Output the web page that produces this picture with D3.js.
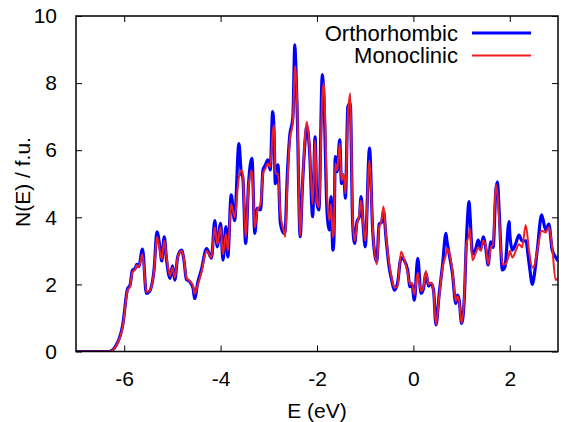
<!DOCTYPE html>
<html>
<head>
<meta charset="utf-8">
<script src="https://cdn.jsdelivr.net/npm/d3@7"></script>
<style>
  body { margin: 0; background: #fff; }
  #dataViz { width: 561px; height: 422px; }
  text { font-family: "Liberation Sans", Arial, sans-serif; }
</style>
</head>
<body>
<div id="dataViz"></div>
<script>
const margin = { top: 16, right: 3, bottom: 70.5, left: 76 };
const width = 561;
const height = 422;

const colours = {
  "ortho": "#0000ff",
  "mono": "#ee1f23",
  "axis": "black"
};

// energies (eV) and densities of states
const energy = [
  -7.0, -6.31, -6.14, -6.03, -5.93, -5.88, -5.83, -5.77, -5.74, -5.70,
  -5.62, -5.54, -5.48, -5.38, -5.32, -5.26, -5.22, -5.17, -5.12, -5.05,
  -5.0, -4.95, -4.89, -4.81, -4.76, -4.71, -4.64, -4.57, -4.54, -4.47,
  -4.40, -4.29, -4.19, -4.12, -4.07, -4.0, -3.95, -3.89, -3.85, -3.78,
  -3.71, -3.62, -3.57, -3.54, -3.48, -3.42, -3.35, -3.29, -3.24, -3.17,
  -3.12, -3.07, -3.02, -2.97, -2.92, -2.89, -2.865, -2.81, -2.76, -2.69,
  -2.66, -2.62, -2.57, -2.50, -2.46, -2.45, -2.41, -2.35, -2.30, -2.24,
  -2.21, -2.155, -2.09, -2.04, -2.0, -1.96, -1.89, -1.86, -1.79, -1.74,
  -1.71, -1.67, -1.65, -1.62, -1.58, -1.53, -1.49, -1.445, -1.41, -1.36,
  -1.31, -1.26, -1.22, -1.17, -1.12, -1.085, -1.04, -1.0, -0.91, -0.845,
  -0.76, -0.71, -0.66, -0.62, -0.57, -0.5, -0.45, -0.395, -0.33, -0.256,
  -0.19, -0.12, -0.07, -0.03, 0.02, 0.09, 0.157, 0.205, 0.26, 0.315,
  0.364, 0.418, 0.468, 0.536, 0.605, 0.675, 0.695, 0.743, 0.81, 0.88,
  0.913, 0.95, 1.0, 1.054, 1.1, 1.157, 1.17, 1.226, 1.296, 1.344,
  1.4, 1.447, 1.5, 1.55, 1.606, 1.654, 1.71, 1.743, 1.778, 1.847,
  1.9, 1.985, 2.0, 2.054, 2.124, 2.19, 2.256, 2.33, 2.4, 2.47,
  2.5, 2.57, 2.66, 2.745, 2.81, 2.88, 2.95, 3.0
];

const orthorhombic = [
  0, 0, 0.26, 0.8, 1.87, 1.97, 2.42, 2.48, 2.6, 2.53,
  3.05, 1.73, 1.78, 2.45, 3.57, 3.12, 2.7, 3.42, 2.72, 2.18,
  2.55, 2.13, 2.82, 3.02, 2.72, 2.15, 2.08, 1.88, 1.58, 2.08,
  2.43, 3.07, 2.78, 3.9, 3.12, 3.82, 2.72, 3.72, 2.82, 4.67,
  3.9, 6.2, 5.3, 5.2, 3.22, 5.0, 5.76, 3.52, 4.27, 4.22,
  5.41, 5.56, 5.71, 5.41, 7.15, 6.5, 5.0, 5.56, 3.82, 3.52,
  3.6, 5.11, 6.36, 7.0, 9.14, 8.9, 7.1, 3.42, 5.0, 6.4,
  6.7, 6.0, 4.02, 6.4, 4.42, 4.22, 8.25, 7.7, 4.12, 3.62,
  4.62, 3.02, 3.3, 5.81, 5.36, 6.31, 5.01, 5.21, 4.57, 7.3,
  7.4, 3.82, 3.22, 3.87, 4.02, 4.62, 3.72, 3.12, 6.06, 3.62,
  2.67, 3.8, 3.85, 4.2, 3.42, 2.48, 2.13, 1.83, 2.03, 2.8,
  2.72, 2.43, 1.93, 2.0, 1.53, 2.78, 1.73, 1.85, 2.33, 1.95,
  2.03, 1.83, 0.79, 1.73, 2.58, 3.52, 3.3, 2.9, 2.33, 1.43,
  1.68, 1.53, 0.84, 1.53, 3.32, 4.47, 4.2, 2.9, 3.07, 3.32,
  3.07, 3.42, 3.1, 2.58, 3.27, 3.1, 4.8, 5.06, 4.22, 2.43,
  2.53, 3.87, 3.5, 3.02, 3.22, 3.47, 3.3, 3.3, 2.63, 2.0,
  2.2, 3.02, 4.07, 3.62, 3.8, 3.02, 2.82, 2.7
];

const monoclinic = [
  0, 0, 0.24, 0.74, 1.82, 1.93, 2.36, 2.45, 2.57, 2.52,
  2.9, 1.78, 1.8, 2.4, 3.42, 3.0, 2.75, 3.3, 2.8, 2.25,
  2.5, 2.2, 2.8, 3.0, 2.75, 2.2, 2.1, 1.95, 1.72, 2.0,
  2.35, 3.0, 2.8, 3.7, 3.2, 3.7, 2.9, 3.5, 3.0, 4.4,
  4.0, 5.2, 5.4, 5.3, 3.4, 4.9, 5.4, 3.7, 4.2, 4.4,
  5.3, 5.45, 5.6, 5.5, 6.5, 6.75, 5.3, 5.3, 4.1, 3.6,
  3.42, 4.8, 6.2, 6.9, 8.4, 8.5, 7.3, 3.45, 5.0, 6.56,
  6.85, 6.1, 4.4, 6.3, 4.5, 4.3, 7.6, 8.0, 4.6, 3.9,
  4.4, 3.4, 3.62, 5.6, 5.4, 6.2, 5.1, 5.3, 4.7, 7.0,
  7.7, 4.0, 3.3, 3.8, 4.1, 4.5, 3.8, 3.3, 5.7, 3.7,
  2.6, 3.7, 3.9, 4.32, 3.5, 2.6, 2.2, 1.9, 1.95, 2.97,
  2.75, 2.35, 2.0, 2.05, 1.7, 2.35, 1.8, 1.9, 2.4, 2.0,
  2.05, 1.8, 0.8, 1.65, 2.5, 2.9, 3.07, 2.95, 2.4, 1.5,
  1.65, 1.5, 0.85, 1.6, 3.2, 3.5, 3.67, 2.72, 2.95, 3.1,
  3.0, 3.3, 3.15, 2.6, 3.1, 3.2, 4.97, 4.7, 4.0, 2.6,
  2.6, 2.9, 3.0, 2.8, 3.0, 3.2, 3.1, 3.77, 3.0, 2.5,
  2.53, 3.0, 3.6, 3.55, 3.7, 3.1, 2.13, 2.2
];

const xTicks = [-6, -4, -2, 0, 2];
const yTicks = [0, 2, 4, 6, 8, 10];

const container = d3.select("#dataViz");
const svg = container.append("svg")
  .attr("width", width)
  .attr("height", height)
  .attr("viewBox", [0, 0, width, height]);

// Scales
const xScale = d3.scaleLinear()
  .domain([-7, 3])
  .range([margin.left, width - margin.right]);

const yScale = d3.scaleLinear()
  .domain([0, 10])
  .range([height - margin.bottom, margin.top]);

// clip to the plot frame
svg.append("clipPath")
  .attr("id", "plotClip")
  .append("rect")
  .attr("x", margin.left)
  .attr("y", margin.top)
  .attr("width", width - margin.left - margin.right)
  .attr("height", height - margin.top - margin.bottom);

// Axes, ticks pointing inward on all four sides
const tickLen = 6;
const axisStyle = (g) => {
  g.select(".domain").remove();
  g.selectAll(".tick line").attr("stroke", colours.axis).attr("stroke-width", 1);
  g.selectAll(".tick text")
    .style("font-size", "21px")
    .attr("fill", "black");
};

// plain hyphen minus like the original
const plainFormat = d => String(d);

svg.append("g")
  .attr("transform", `translate(0, ${height - margin.bottom})`)
  .call(d3.axisBottom(xScale).tickValues(xTicks).tickSizeInner(-tickLen).tickPadding(15)
    .tickFormat(plainFormat))
  .call(axisStyle)
  .selectAll(".tick text").attr("dy", "0.95em");

svg.append("g")
  .attr("transform", `translate(0, ${margin.top})`)
  .call(d3.axisTop(xScale).tickValues(xTicks).tickSizeInner(-tickLen).tickFormat(""))
  .call(axisStyle);

svg.append("g")
  .attr("transform", `translate(${margin.left}, 0)`)
  .call(d3.axisLeft(yScale).tickValues(yTicks).tickSizeInner(-tickLen).tickPadding(19)
    .tickFormat(plainFormat))
  .call(axisStyle);

svg.append("g")
  .attr("transform", `translate(${width - margin.right}, 0)`)
  .call(d3.axisRight(yScale).tickValues(yTicks).tickSizeInner(-tickLen).tickFormat(""))
  .call(axisStyle);

// Lines
const rows = energy.map((e, i) => ({ e: e, o: orthorhombic[i], m: monoclinic[i] }));

const lineO = d3.line()
  .x(d => xScale(d.e))
  .y(d => yScale(d.o))
  .curve(d3.curveMonotoneX);

const lineM = d3.line()
  .x(d => xScale(d.e))
  .y(d => yScale(d.m))
  .curve(d3.curveMonotoneX);

const plot = svg.append("g").attr("clip-path", "url(#plotClip)");

plot.append("path")
  .datum(rows)
  .attr("fill", "none")
  .attr("stroke", colours.ortho)
  .attr("stroke-width", 3.2)
  .attr("stroke-linejoin", "round")
  .attr("d", lineO);

plot.append("path")
  .datum(rows)
  .attr("fill", "none")
  .attr("stroke", colours.mono)
  .attr("stroke-width", 2)
  .attr("stroke-linejoin", "round")
  .attr("d", lineM);

// Frame
svg.append("rect")
  .attr("x", margin.left)
  .attr("y", margin.top)
  .attr("width", width - margin.left - margin.right)
  .attr("height", height - margin.top - margin.bottom)
  .attr("fill", "none")
  .attr("stroke", colours.axis)
  .attr("stroke-width", 1.5);

// Legend
const legend = [
  { name: "Orthorhombic", colour: colours.ortho, w: 3.2 },
  { name: "Monoclinic", colour: colours.mono, w: 2 }
];

const leg = svg.selectAll(".legend")
  .data(legend)
  .enter()
  .append("g")
  .attr("class", "legend")
  .attr("transform", (d, i) => `translate(0, ${33 + i * 22.5})`);

leg.append("text")
  .attr("x", 458)
  .attr("dy", "0.35em")
  .style("text-anchor", "end")
  .style("font-size", "22px")
  .text(d => d.name);

leg.append("line")
  .attr("x1", 472)
  .attr("x2", 531)
  .attr("stroke", d => d.colour)
  .attr("stroke-width", d => d.w);

// Label for the x-axis
svg.append("text")
  .attr("transform", `translate(${(margin.left + width - margin.right) / 2}, 418)`)
  .style("text-anchor", "middle")
  .style("font-size", "21px")
  .text("E (eV)");

// Label for the y-axis
svg.append("text")
  .attr("transform", "rotate(-90)")
  .attr("y", 30)
  .attr("x", -182)
  .style("text-anchor", "middle")
  .style("font-size", "21px")
  .text("N(E) / f.u.");
</script>
</body>
</html>
